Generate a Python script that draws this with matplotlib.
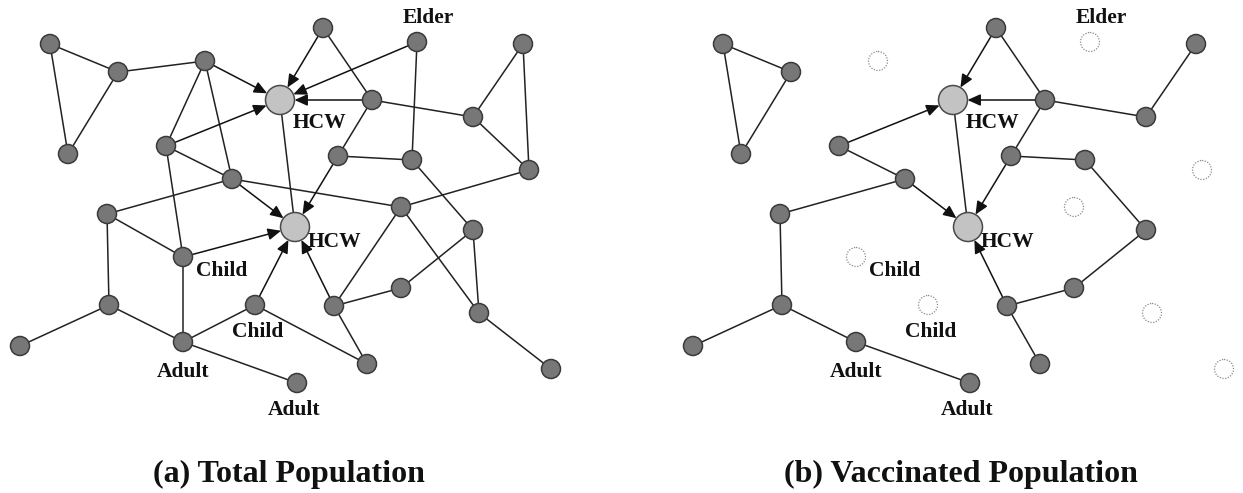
import matplotlib
matplotlib.use("Agg")
import matplotlib.pyplot as plt
from matplotlib.patches import Circle, FancyArrowPatch
import numpy as np

# ---- data ----
node_names = ["A", "B", "C", "D", "E", "F", "H1", "G", "H", "I", "J", "K", "L", "M", "N",
              "O", "P", "H2", "Q", "R", "S", "T", "U", "V", "W", "X", "Y", "Z", "AA", "AB"]
node_x = [50, 118, 68, 205, 166, 232, 280, 107, 323, 417, 372, 523, 473, 338, 412,
          529, 401, 295, 183, 109, 255, 183, 20, 297, 473, 334, 401, 479, 367, 551]
node_y = [44, 72, 154, 61, 146, 179, 100, 214, 28, 42, 100, 44, 117, 156, 160,
          170, 207, 227, 257, 305, 305, 342, 346, 383, 230, 306, 288, 313, 364, 369]
hcw_nodes = ["H1", "H2"]
vaccinated = ["D", "I", "O", "P", "Q", "S", "Z", "AB"]

# (source, target, directed)
edges = [
    ("A", "B", False), ("A", "C", False), ("B", "C", False), ("B", "D", False),
    ("D", "H1", True), ("D", "E", False), ("D", "F", False), ("E", "H1", True),
    ("E", "F", False), ("E", "Q", False), ("F", "H2", True), ("F", "P", False),
    ("G", "F", False), ("G", "Q", False), ("G", "R", False), ("H1", "H2", False),
    ("H", "H1", True), ("H", "J", False), ("I", "H1", True), ("I", "N", False),
    ("J", "H1", True), ("J", "L", False), ("J", "M", False), ("K", "L", False),
    ("K", "O", False), ("L", "O", False), ("M", "H2", True), ("M", "N", False),
    ("N", "W", False), ("O", "P", False), ("P", "X", False), ("P", "Z", False),
    ("W", "Y", False), ("W", "Z", False), ("X", "Y", False), ("X", "H2", True),
    ("X", "AA", False), ("Z", "AB", False), ("S", "AA", False), ("S", "H2", True),
    ("Q", "H2", True), ("Q", "T", False), ("R", "T", False), ("R", "U", False),
    ("T", "S", False), ("T", "V", False),
]

label_texts = ["Elder", "HCW", "HCW", "Child", "Child", "Adult", "Adult"]
label_x = [428, 320, 335, 222, 258, 183, 294]
label_y = [18, 123, 242, 271, 332, 372, 410]

titles = ["(a) Total Population", "(b) Vaccinated Population"]
title_x = [289, 961]
title_y = 474

# ---- layout / style ----
W, H = 1243, 493
PANEL_OFFSET = 673
R_NODE, R_HCW = 9.5, 14.5
SERIF = ["Liberation Serif", "DejaVu Serif"]

pos = {n: (x, y) for n, x, y in zip(node_names, node_x, node_y)}

fig = plt.figure(figsize=(W / 100, H / 100), dpi=100)
ax = fig.add_axes([0, 0, 1, 1])
ax.set_xlim(0, W)
ax.set_ylim(H, 0)
ax.axis("off")


def draw_panel(dx, vacc_mode):
    vset = set(vaccinated) if vacc_mode else set()
    for u, v, directed in edges:
        if u in vset or v in vset:
            continue
        x1, y1 = pos[u]
        x2, y2 = pos[v]
        x1 += dx
        x2 += dx
        if directed:
            d = np.hypot(x2 - x1, y2 - y1)
            r = R_HCW if v in hcw_nodes else R_NODE
            ex = x2 - (x2 - x1) / d * r
            ey = y2 - (y2 - y1) / d * r
            arr = FancyArrowPatch((x1, y1), (ex, ey),
                                  arrowstyle="-|>,head_length=0.6,head_width=0.27",
                                  mutation_scale=13, shrinkA=0, shrinkB=0,
                                  color="#111111", lw=1.1, zorder=2)
            ax.add_patch(arr)
        else:
            ax.plot([x1, x2], [y1, y2], color="#222222", lw=1.1, zorder=1,
                    solid_capstyle="butt")
    for n in node_names:
        x, y = pos[n]
        x += dx
        if n in vset:
            c = Circle((x, y), R_NODE, facecolor="none", edgecolor="#8a8a8a",
                       lw=0.9, linestyle=(0, (1, 1.2)), zorder=3)
        elif n in hcw_nodes:
            c = Circle((x, y), R_HCW, facecolor="#c3c3c3", edgecolor="#4a4a4a",
                       lw=1.1, zorder=3)
        else:
            c = Circle((x, y), R_NODE, facecolor="#777777", edgecolor="#3a3a3a",
                       lw=1.1, zorder=3)
        ax.add_patch(c)
    for t, x, y in zip(label_texts, label_x, label_y):
        ax.text(x + dx, y, t, ha="center", va="center", fontsize=15.5,
                fontweight="bold", family=SERIF, color="#111111", zorder=4)


draw_panel(0, False)
draw_panel(PANEL_OFFSET, True)

for t, x in zip(titles, title_x):
    ax.text(x, title_y, t, ha="center", va="center", fontsize=23,
            fontweight="bold", family=SERIF, color="#111111")

fig.savefig("out.png", dpi=100)
